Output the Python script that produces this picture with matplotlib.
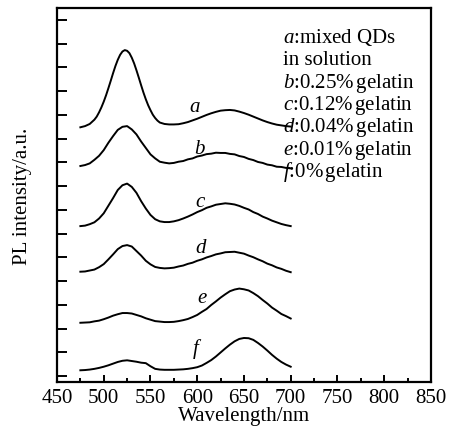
import matplotlib
matplotlib.use('Agg')
from matplotlib import pyplot as plt
from matplotlib.ticker import MultipleLocator


plt.rcParams['font.family'] = ['Liberation Serif', 'DejaVu Serif']
plt.rcParams['mathtext.fontset'] = 'custom'
plt.rcParams['mathtext.rm'] = 'Liberation Serif'
plt.rcParams['mathtext.it'] = 'Liberation Serif:italic'

# wavelength grid (nm), 475 .. 700 every 5 nm
wavelength = list(range(475, 701, 5))
# curve a has a sharper peak, read on a finer grid around it
wavelength_a = [475, 480, 485, 490, 492.5, 495, 497.5, 500, 502.5, 505,
                507.5, 510, 512.5, 515, 517.5, 520, 522.5, 525, 527.5, 530,
                532.5, 535, 537.5, 540, 542.5, 545, 547.5, 550, 552.5, 555,
                557.5, 560, 565, 570, 575, 580, 585, 590, 595, 600,
                605, 610, 615, 620, 625, 630, 635, 640, 645, 650,
                655, 660, 665, 670, 675, 680, 685, 690, 695, 700]

# PL spectra, vertically stacked (a.u.)
curve_a = [10.48, 10.53, 10.62, 10.80, 10.93, 11.11, 11.32, 11.56, 11.83, 12.13,
           12.44, 12.76, 13.06, 13.32, 13.53, 13.67, 13.73, 13.70, 13.60, 13.41,
           13.17, 12.88, 12.57, 12.25, 11.94, 11.66, 11.41, 11.20, 11.01, 10.87,
           10.76, 10.68, 10.62, 10.60, 10.60, 10.61, 10.65, 10.70, 10.77, 10.84,
           10.92, 11.00, 11.07, 11.13, 11.18, 11.20, 11.21, 11.19, 11.14, 11.08,
           11.01, 10.93, 10.85, 10.77, 10.70, 10.64, 10.59, 10.56, 10.53, 10.51]
curve_b = [8.85, 8.89, 8.96, 9.11, 9.28,
           9.52, 9.83, 10.11, 10.37, 10.50, 10.53, 10.39, 10.18, 9.88, 9.61,
           9.34, 9.17, 9.03, 8.99, 8.96, 8.98, 9.03, 9.06, 9.13, 9.17,
           9.25, 9.29, 9.35, 9.37, 9.41, 9.40, 9.40, 9.36, 9.34, 9.27,
           9.23, 9.15, 9.10, 9.02, 8.98, 8.91, 8.88, 8.82, 8.81, 8.77,
           8.75]
curve_c = [6.32, 6.34, 6.40, 6.48, 6.64,
           6.86, 7.18, 7.50, 7.84, 8.04, 8.11, 7.97, 7.72, 7.37, 7.06,
           6.79, 6.61, 6.52, 6.49, 6.49, 6.52, 6.57, 6.64, 6.72, 6.81,
           6.91, 6.99, 7.09, 7.15, 7.22, 7.25, 7.28, 7.26, 7.23, 7.17,
           7.09, 7.02, 6.91, 6.83, 6.72, 6.64, 6.55, 6.48, 6.41, 6.36,
           6.32]
curve_d = [4.40, 4.41, 4.45, 4.49, 4.59,
           4.72, 4.92, 5.13, 5.35, 5.48, 5.52, 5.46, 5.27, 5.08, 4.86,
           4.71, 4.60, 4.56, 4.54, 4.55, 4.57, 4.62, 4.66, 4.73, 4.78,
           4.86, 4.92, 5.00, 5.06, 5.13, 5.17, 5.22, 5.23, 5.24, 5.20,
           5.16, 5.08, 5.01, 4.92, 4.84, 4.74, 4.67, 4.58, 4.52, 4.44,
           4.38]
curve_e = [2.25, 2.26, 2.27, 2.31, 2.34,
           2.40, 2.47, 2.55, 2.61, 2.66, 2.66, 2.64, 2.58, 2.52, 2.44,
           2.38, 2.32, 2.30, 2.28, 2.28, 2.29, 2.32, 2.36, 2.41, 2.49,
           2.58, 2.71, 2.83, 3.00, 3.15, 3.31, 3.45, 3.58, 3.65, 3.69,
           3.66, 3.61, 3.50, 3.37, 3.21, 3.06, 2.89, 2.76, 2.62, 2.53,
           2.43]
curve_f = [0.25, 0.26, 0.28, 0.31, 0.35,
           0.40, 0.46, 0.53, 0.60, 0.65, 0.67, 0.64, 0.61, 0.57, 0.55,
           0.42, 0.31, 0.28, 0.27, 0.27, 0.27, 0.28, 0.29, 0.31, 0.34,
           0.38, 0.45, 0.56, 0.68, 0.83, 1.00, 1.17, 1.33, 1.47, 1.57,
           1.61, 1.60, 1.53, 1.40, 1.25, 1.08, 0.90, 0.74, 0.60, 0.49,
           0.40]

curve_names = ['a', 'b', 'c', 'd', 'e', 'f']
# label positions next to each curve (wavelength, intensity)
label_x = [597, 603, 604, 604, 606, 600]
label_y = [11.35, 9.6, 7.35, 5.4, 3.3, 1.2]

legend_lines = [
    '$a$:mixed QDs',
    'in solution',
    '$b$:0.25%$\\,$gelatin',
    '$c$:0.12%$\\,$gelatin',
    '$d$:0.04%$\\,$gelatin',
    '$e$:0.01%$\\,$gelatin',
    '$f$:0%$\\,$gelatin',
]


def main():
    fig = plt.figure(figsize=(4.56, 4.31), dpi=100)
    ax = fig.add_axes([0.125, 0.111, 0.82, 0.868])

    ax.plot(wavelength_a, curve_a, color='black', lw=1.4)
    for values in [curve_b, curve_c, curve_d, curve_e, curve_f]:
        ax.plot(wavelength, values, color='black', lw=1.4)

    for name, x, y in zip(curve_names, label_x, label_y):
        ax.text(x, y, f'${name}$', fontsize=15, ha='center', va='center')

    for i, line in enumerate(legend_lines):
        ypx = 43 + 22.3 * i
        ax.text(0.605, (383 - ypx) / 374, line, fontsize=15,
                transform=ax.transAxes, ha='left', va='baseline')

    ax.set_xlim(450, 850)
    ax.set_ylim(-0.25, 15.5)
    ax.xaxis.set_major_locator(MultipleLocator(50))
    ax.xaxis.set_minor_locator(MultipleLocator(25))
    ax.set_yticks(range(16))

    ax.tick_params(which='both', direction='in', top=False, right=False,
                   width=1.4, labelsize=15)
    ax.tick_params(axis='x', which='major', length=5, pad=4)
    ax.tick_params(axis='x', which='minor', length=3)
    ax.tick_params(axis='y', which='major', length=7, labelleft=False)

    for spine in ax.spines.values():
        spine.set_linewidth(1.6)

    ax.set_xlabel('Wavelength/nm', fontsize=15)
    ax.set_ylabel('PL intensity/a.u.', fontsize=15)
    ax.xaxis.set_label_coords(0.5, -0.064)
    ax.yaxis.set_label_coords(-0.068, 0.5)

    fig.savefig('out.png', dpi=100)


if __name__ == '__main__':
    main()
